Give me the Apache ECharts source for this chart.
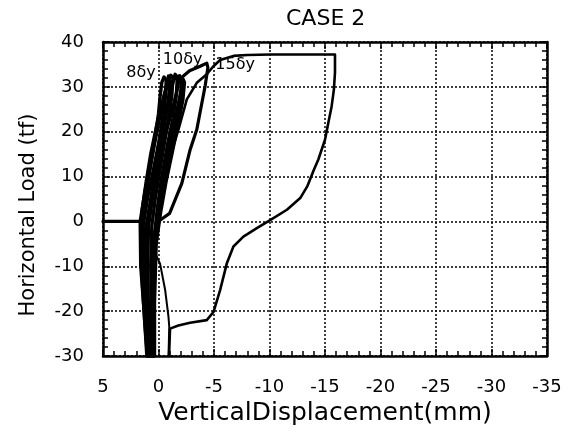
<!DOCTYPE html>
<html>
<head>
<meta charset="utf-8">
<script src="https://cdn.jsdelivr.net/npm/echarts@6/dist/echarts.min.js"></script>
<style>
html,body{margin:0;padding:0;background:#fff;}
#chart{width:578px;height:443px;}
</style>
</head>
<body>
<div id="chart"></div>
<script>
// ---- data (vertical displacement mm, horizontal load tf) ----
var xTicks = [5, 0, -5, -10, -15, -20, -25, -30, -35];
var yTicks = [-30, -20, -10, 0, 10, 20, 30, 40];

var initialLine = [[5, 0], [1.6, 0]];

var loopA = [[0.9,-30],[1.2,-20],[1.5,-10],[1.55,-3],[1.3,3],[1.0,8],[0.6,14],[0.3,19],[0.0,24],[-0.15,28],[-0.3,31],[-0.5,32.2],
             [-0.7,31.5],[-0.6,27],[-0.3,22],[0.1,15],[0.5,8],[0.9,2],[1.1,-5],[1.0,-15],[0.8,-30]];
var loopB = [[1.05,-30],[1.3,-20],[1.6,-10],[1.65,0],[1.2,7],[0.7,13],[0.3,18],[-0.1,23],[-0.5,28],[-0.9,31.5],[-1.1,32.6],
             [-1.3,32],[-1.2,28],[-0.9,23],[-0.5,17],[-0.1,11],[0.3,5],[0.6,-1],[0.7,-10],[0.6,-20],[0.5,-30]];
var loopC = [[0.8,-30],[1.1,-20],[1.4,-10],[1.45,-2],[1.0,5],[0.5,11],[0.1,16],[-0.3,21],[-0.8,26],[-1.2,30],[-1.5,32.8],
             [-1.7,32.2],[-1.6,28],[-1.3,23],[-0.8,17],[-0.3,10],[0.1,3],[0.4,-4],[0.5,-15],[0.45,-30]];
var loopD = [[0.7,-30],[0.9,-20],[1.2,-10],[1.2,-2],[0.7,4],[0.2,10],[-0.3,16],[-0.8,21],[-1.3,25.5],[-1.7,29.5],[-1.9,32.5],
             [-2.1,31],[-1.95,26],[-1.5,20],[-1.0,14],[-0.4,7],[0.0,1],[0.3,-6],[0.45,-20],[0.4,-30]];
var loopE = [[0.55,-30],[0.7,-15],[0.6,-6],[0.2,-1],[-0.2,5],[-0.6,12],[-1.1,18],[-1.6,24],[-2.0,29],[-2.2,31.8],
             [-2.35,31],[-2.2,27],[-1.8,22],[-1.3,16],[-0.7,9],[-0.2,2],[0.2,-5],[0.35,-18],[0.35,-30]];
var loopF = [[1.0,-30],[1.25,-22],[1.45,-14],[1.6,-6],[1.5,2],[1.1,9],[0.7,15],[0.2,21],[-0.3,26],[-0.7,30],[-0.9,32.4],
             [-1.0,31],[-0.9,27],[-0.5,21],[0.0,14],[0.5,6],[0.9,-1],[1.0,-12],[0.9,-22],[0.7,-30]];

var cycle10 = [[-1.9,31.7],[-2.8,33.6],[-3.75,34.6],[-4.35,35.3],[-4.45,34.3],[-4.2,30.2],[-3.45,20.5],[-2.85,16],
               [-2.1,8.5],[-1.0,1.8],[-0.1,0.2],[0.4,-3]];

var cycle15 = [[-1.0,14],[-1.8,20.5],[-2.55,27.2],[-3.45,30.9],[-4.35,32.8],[-4.95,34.6],[-5.55,36.0],[-6.75,36.9],
               [-8,37.1],[-10.1,37.2],[-15.9,37.2],[-15.9,33.2],[-15.8,29.4],[-15.6,25.7],[-15.3,22.0],[-15.0,18.2],
               [-14.4,13.8],[-14.0,11.5],[-13.4,7.8],[-12.77,5.2],[-11.57,2.6],[-10.06,0.3],[-8.86,-1.5],[-7.65,-3.4],
               [-6.75,-5.6],[-6.15,-9.4],[-5.55,-15.3],[-4.95,-20.2],[-4.35,-22.0],[-2.84,-22.6],[-1.79,-23.2],
               [-1.04,-23.9],[-0.95,-30]];

var descLine = [[0.3,-7.1],[-0.14,-9.4],[-0.6,-15.3],[-0.9,-21.3],[-0.97,-23.5],[-0.9,-30]];

var annotations = [
  {name: '8δy', value: [1.58, 33.2]},
  {name: '10δy', value: [-2.17, 36.0]},
  {name: '15δy', value: [-6.9, 35.0]}
];

// ---- chart ----
var FONT = 'DejaVu Sans';
var chart = echarts.init(document.getElementById('chart'), null, {renderer: 'canvas'});

function lineSeries(data, w) {
  return {
    type: 'line', data: data, xAxisIndex: 0, yAxisIndex: 0,
    showSymbol: false, symbol: 'none', smooth: false, silent: true,
    lineStyle: {color: '#000', width: w, join: 'round', cap: 'round', opacity: 1},
    z: 5, animation: false
  };
}

var tickCommon = {show: true, inside: true, length: 7, lineStyle: {color: '#000', width: 1.5}};
var minorCommon = {show: true, splitNumber: 5, length: 5, lineStyle: {color: '#000', width: 1.5}};
var axisLineCommon = {show: true, onZero: false, lineStyle: {color: '#000', width: 2.5}};
var splitCommon = {show: true, lineStyle: {color: '#111', width: 1.6, type: [2, 2]}};

chart.setOption({
  animation: false,
  backgroundColor: '#fff',
  title: {
    text: 'CASE 2', left: 286, top: 8, padding: 0,
    textStyle: {fontFamily: FONT, fontSize: 22, fontWeight: 'normal', color: '#000'}
  },
  grid: {left: 103, right: 31, top: 42, bottom: 87, show: false},
  xAxis: [{
    type: 'value', position: 'bottom', min: -35, max: 5, interval: 5, inverse: true,
    name: 'VerticalDisplacement(mm)', nameLocation: 'middle', nameGap: 44,
    nameTextStyle: {fontFamily: FONT, fontSize: 25, color: '#000'},
    axisLine: axisLineCommon, axisTick: tickCommon, minorTick: minorCommon,
    splitLine: splitCommon,
    axisLabel: {fontFamily: FONT, fontSize: 18, color: '#000', margin: 22}
  }, {
    type: 'value', position: 'top', min: -35, max: 5, interval: 5, inverse: true,
    axisLine: axisLineCommon, axisTick: tickCommon, minorTick: minorCommon,
    splitLine: {show: false}, axisLabel: {show: false}
  }],
  yAxis: [{
    type: 'value', position: 'left', min: -30, max: 40, interval: 10,
    name: 'Horizontal Load (tf)', nameLocation: 'middle', nameGap: 64,
    nameTextStyle: {fontFamily: FONT, fontSize: 21, color: '#000', padding: [0, 32, 0, 0]},
    axisLine: axisLineCommon, axisTick: tickCommon, minorTick: minorCommon,
    splitLine: splitCommon,
    axisLabel: {fontFamily: FONT, fontSize: 18, color: '#000', margin: 19}
  }, {
    type: 'value', position: 'right', min: -30, max: 40, interval: 10,
    axisLine: axisLineCommon, axisTick: tickCommon, minorTick: minorCommon,
    splitLine: {show: false}, axisLabel: {show: false}
  }],
  series: [
    lineSeries(initialLine, 3.2),
    lineSeries(loopA, 3.4),
    lineSeries(loopB, 3.4),
    lineSeries(loopC, 3.4),
    lineSeries(loopD, 3.4),
    lineSeries(loopE, 3.2),
    lineSeries(loopF, 3.4),
    lineSeries(cycle10, 3.2),
    lineSeries(cycle15, 2.6),
    lineSeries(descLine, 2),
    {
      type: 'scatter', data: annotations, symbolSize: 0, silent: true, z: 6,
      itemStyle: {opacity: 1},
      label: {show: true, position: 'inside', formatter: '{b}', opacity: 1,
              fontFamily: FONT, fontSize: 16, color: '#000'}
    }
  ]
});
</script>
</body>
</html>
